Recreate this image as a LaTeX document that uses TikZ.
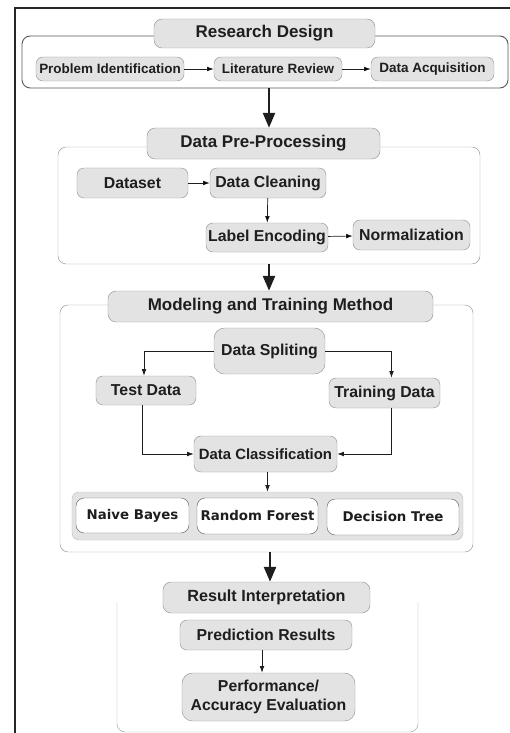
\documentclass[tikz,border=0pt]{standalone}
\usepackage{fontspec}
\setmainfont{Liberation Sans}
\newfontfamily\modelfont{DejaVu Sans}
\usetikzlibrary{arrows.meta,positioning}

\definecolor{boxgray}{HTML}{E3E3E3}
\definecolor{txt}{HTML}{1E1E1E}
\definecolor{rim}{HTML}{959595}

\begin{document}
\begin{tikzpicture}[x=0.03cm,y=-0.03cm]
          \useasboundingbox (0,0) rectangle (510,733);

          \tikzstyle{title}=[draw=rim,fill=boxgray,rounded corners=7pt,text=txt,
            inner sep=0pt,font=\fontsize{14.5}{17}\selectfont\bfseries]
          \tikzstyle{step box}=[draw=rim,fill=boxgray,rounded corners=6pt,text=txt,
            inner sep=0pt,align=center,font=\fontsize{13.5}{16}\selectfont\bfseries]
          \tikzstyle{small box}=[step box,font=\fontsize{11.5}{13}\selectfont\bfseries]
          \tikzstyle{model}=[draw=black!60,fill=white,rounded corners=7pt,text=txt,
            inner sep=0pt,font=\modelfont\fontsize{11.4}{13}\selectfont\bfseries]
          \tikzstyle{frame}=[rounded corners=7pt,draw=rim]
          \tikzstyle{flow}=[->,>={Latex[length=2mm,width=1.4mm]},draw=txt,line width=0.6pt]
          \tikzstyle{bigflow}=[->,>={Triangle[length=4.5mm,width=3.6mm]},draw=txt,line width=2.2pt]

          % page frame
          \draw[line width=1.4pt,black!85] (15,733) -- (15,8) -- (510,8);

          %% research design
          \draw[frame,draw=black!65,line width=0.8pt] (22,36) rectangle (508,88);
          \node[title,minimum width=6.63cm,minimum height=0.87cm] (RD) at (264.5,33.5) {Research Design};
          \node[small box,minimum width=4.44cm,minimum height=0.72cm] (PI) at (110,69) {Problem Identification};
          \node[small box,minimum width=3.84cm,minimum height=0.72cm] (LR) at (278,69) {Literature Review};
          \node[small box,minimum width=3.69cm,minimum height=0.72cm] (DA) at (432.5,69) {Data Acquisition};
          \path[flow] (PI) edge (LR)
          (LR) edge (DA);

          \coordinate (RDout) at (269,88);

          %% data pre-processing
          \draw[frame] (58,147) rectangle (480,264);
          \node[title,minimum width=6.99cm,minimum height=0.93cm] (DPP) at (263.5,143.5) {Data Pre-Processing};
          \node[step box,minimum width=3.33cm,minimum height=0.9cm] (DS) at (132.5,183) {Dataset};
          \node[step box,minimum width=3.48cm,minimum height=0.9cm] (DC) at (268,183) {Data Cleaning};
          \node[step box,minimum width=3.66cm,minimum height=0.87cm] (LE) at (267,237.5) {Label Encoding};
          \node[step box,minimum width=3.51cm,minimum height=0.9cm] (NO) at (411.5,235) {Normalization};
          \path[flow] (DS) edge (DC)
          (DC) edge (LE)
          (LE) edge (NO);

          \draw[bigflow] (RDout) -- (DPP.north -| RDout);
          \coordinate (DPPout) at (269,264);

          %% modeling and training
          \draw[frame] (60,305) rectangle (473,552);
          \node[title,minimum width=9.75cm,minimum height=0.93cm] (MT) at (270.5,306.5) {Modeling and Training Method};
          \node[step box,minimum width=3.33cm,minimum height=1.38cm,rounded corners=9pt] (SP) at (269.5,351) {Data Spliting};
          \node[step box,minimum width=3.0cm,minimum height=0.87cm] (TE) at (146,390.5) {Test Data};
          \node[step box,minimum width=3.33cm,minimum height=0.9cm] (TR) at (384.5,393) {Training Data};
          \node[step box,minimum width=4.29cm,minimum height=1.08cm,font=\fontsize{12.7}{15}\selectfont\bfseries] (CL) at (265.5,454) {Data Classification};
          \node[step box,draw=rim!60,minimum width=11.73cm,minimum height=1.44cm] (ML) at (267.5,516) {};
          \node[model,minimum width=3.39cm,minimum height=1.05cm] (NB) at (132.5,515.5) {Naive Bayes};
          \node[model,minimum width=3.63cm,minimum height=1.08cm] (RF) at (257.5,516) {Random Forest};
          \node[model,minimum width=3.96cm,minimum height=1.08cm] (DT) at (393,517) {Decision Tree};

          \draw[flow] (SP.west) -| ([xshift=-0.06cm]TE.north);
          \draw[flow] (SP.east) -| ([xshift=0.21cm]TR.north);
          \draw[flow] ([xshift=-0.12cm]TE.south) |- (CL.west);
          \draw[flow] ([xshift=0.21cm]TR.south) |- (CL.east);
          \draw[flow] ([xshift=0.06cm]CL.south) -- ([xshift=0.06cm]CL.south |- ML.north);

          \draw[bigflow] (DPPout) -- (MT.north -| DPPout);
          \coordinate (MTout) at (270,552);

          %% result interpretation
          \draw[frame,draw=rim!85] (117,602) -- (117,732) -- (418,732) -- (418,602);
          \node[title,minimum width=6.21cm,minimum height=0.93cm,font=\fontsize{13.8}{16}\selectfont\bfseries] (RI) at (266.5,597.5) {Result Interpretation};
          \node[step box,minimum width=5.16cm,minimum height=0.9cm] (PR) at (266,635) {Prediction Results};
          \node[step box,minimum width=5.19cm,minimum height=1.44cm,rounded corners=9pt] (PE) at (268.5,697) {Performance/\\Accuracy Evaluation};
          \draw[flow] ([xshift=-0.12cm]PR.south) -- ([xshift=-0.12cm]PR.south |- PE.north);

          \draw[bigflow] (MTout) -- (RI.north -| MTout);
        \end{tikzpicture}
\end{document}
